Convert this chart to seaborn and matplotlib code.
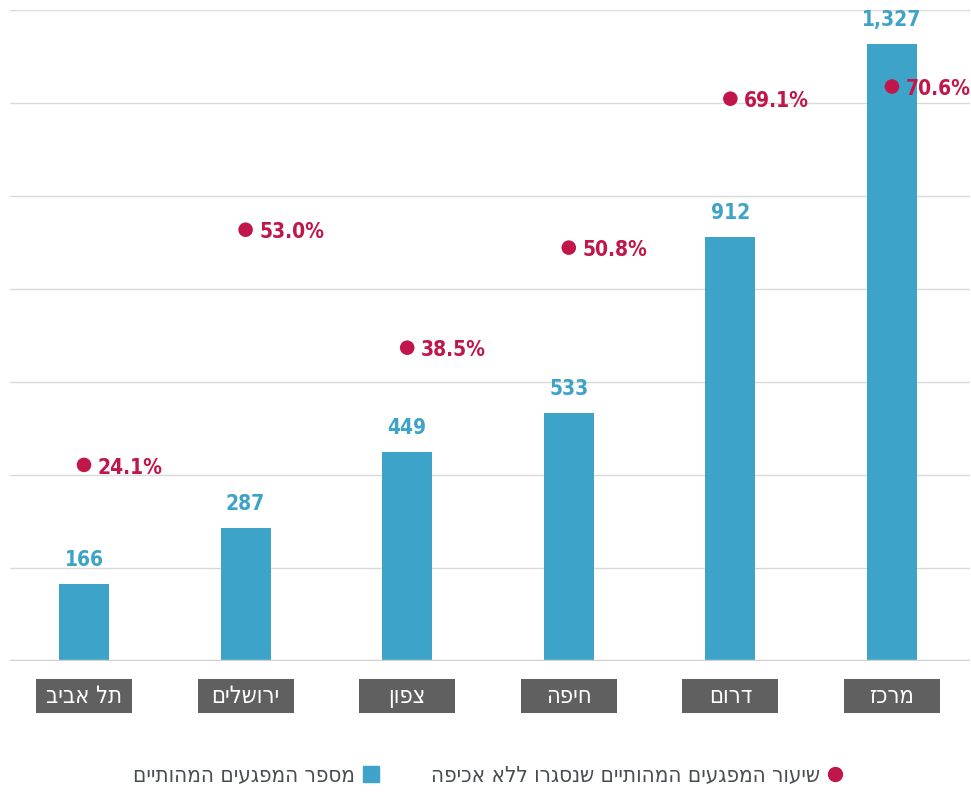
import matplotlib
matplotlib.use("Agg")
import matplotlib.pyplot as plt
import matplotlib.transforms as mtransforms
from matplotlib.patches import Rectangle
from matplotlib.lines import Line2D
import seaborn as sns
import pandas as pd

sns.set_theme(style="white")
plt.rcParams["font.family"] = ["DejaVu Sans"]
plt.rcParams["font.stretch"] = "condensed"

# data
regions = ["תל אביב", "ירושלים", "צפון", "חיפה", "דרום", "מרכז"]
hazards = [166, 287, 449, 533, 912, 1327]
closed_pct = [24.1, 53.0, 38.5, 50.8, 69.1, 70.6]
legend_bars = "מספר המפגעים המהותיים"
legend_dots = "שיעור המפגעים המהותיים שנסגרו ללא אכיפה"

BLUE = "#3ea3c8"
RED = "#c0164a"
BOX = "#5f605f"
TXT = "#4a4d50"


def rtl(s):
    # matplotlib has no bidi support, so flip Hebrew for display
    return s[::-1]


df = pd.DataFrame({"region": regions, "hazards": hazards, "pct": closed_pct})
df["pos"] = range(len(df))

fig = plt.figure(figsize=(9.71, 7.93), dpi=100)
ax = fig.add_axes([10 / 971, 1 - 661 / 793, 960 / 971, 651 / 793])

sns.barplot(data=df, x="pos", y="hazards", color=BLUE, width=0.31,
            saturation=1, ax=ax, native_scale=True, edgecolor="none")
ax.set_xlim(-0.458, 5.483)
ax.set_ylim(0, 1400)
ax.set_yticks(range(0, 1401, 200))
ax.yaxis.grid(True, color="#d9d9d9", linewidth=1)
ax.set_axisbelow(True)
for s in ax.spines.values():
    s.set_visible(False)
ax.axhline(0, color="#d0d0d0", linewidth=2.5, zorder=3)
ax.set_xlabel("")
ax.set_ylabel("")

ax.bar_label(ax.containers[0], labels=[f"{v:,}" for v in hazards], padding=10,
             color=BLUE, fontsize=15, fontweight="bold")

ax2 = ax.twinx()
sns.scatterplot(data=df, x="pos", y="pct", color=RED, s=110, edgecolor="none",
                ax=ax2, zorder=5)
ax2.set_ylim(0, 80)
ax2.set_xlim(ax.get_xlim())
ax2.axis("off")
ax.tick_params(left=False, bottom=False, labelleft=False, labelbottom=False)
for x, p in zip(df["pos"], closed_pct):
    ax2.annotate(f"{p:.1f}%", (x, p), xytext=(10, -2), textcoords="offset points",
                 ha="left", va="center", color=RED, fontsize=15, fontweight="bold")

# category boxes under the axis
trans = mtransforms.blended_transform_factory(ax.transData, fig.transFigure)
box_w = 96 / 161.6
for x, name in zip(df["pos"], regions):
    fig.patches.append(Rectangle((x - box_w / 2, 1 - 713 / 793), box_w, 34 / 793,
                                 transform=trans, facecolor=BOX, edgecolor="none"))
    fig.text(x, 1 - 696 / 793, rtl(name), transform=trans, ha="center", va="center",
             color="white", fontsize=17)

handles = [
    Line2D([], [], marker="s", linestyle="none", markersize=11, color=BLUE),
    Line2D([], [], marker="o", linestyle="none", markersize=10, color=RED),
]
fig.legend(handles, [rtl(legend_bars), rtl(legend_dots)], ncol=2, markerfirst=False,
           loc="center", bbox_to_anchor=(490 / 971, 1 - 776 / 793), frameon=False,
           fontsize=16, labelcolor=TXT, columnspacing=2.2, handletextpad=0.2,
           handlelength=1.0)

fig.savefig("out.png", dpi=100)
